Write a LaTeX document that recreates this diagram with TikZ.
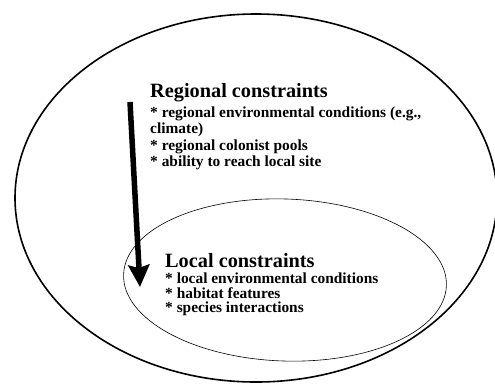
\documentclass[tikz,border=0pt]{standalone}
\usepackage{fontspec}
\setmainfont{Liberation Serif}
\usetikzlibrary{arrows.meta, shapes.geometric, positioning}

\begin{document}
\begin{tikzpicture}[x=1pt, y=-1pt,
    titre/.style={font=\fontsize{20.3}{22}\selectfont\bfseries, inner sep=0pt},
    liste/.style={font=\fontsize{15.4}{16.4}\selectfont\bfseries, inner sep=0pt, align=left},
    fleche/.style={line width=5.5pt, -{Stealth[length=22pt, width=21pt, inset=3pt]}}]
    \useasboundingbox (0,0) rectangle (495,384);
    % Ellipse regionale
    \node[draw, ellipse, line width=1.6pt, minimum width=482pt, minimum height=368pt] (region) at (256,198) {};
    % Ellipse locale
    \node[draw, ellipse, line width=0.6pt, minimum width=323pt, minimum height=162pt, rotate=-2] (local) at (285,280) {};
    % Contraintes regionales
    \node[titre, anchor=base west] (regtitre) at (150,97) {Regional constraints};
    \node[liste, below=5pt of regtitre.south west, anchor=north west] (regliste)
        {* regional environmental conditions (e.g.,\\ climate)\\ * regional colonist pools\\ * ability to reach local site};
    % Contraintes locales
    \node[titre, anchor=base west] (loctitre) at (165,267) {Local constraints};
    \node[liste, below=5pt of loctitre.south west, anchor=north west, font=\fontsize{15.4}{14.8}\selectfont\bfseries] (locliste)
        {* local environmental conditions\\ * habitat features\\ * species interactions};
    % Fleche
    \coordinate (haut) at (130,102);
    \coordinate (bas) at (140,287);
    \draw[fleche] (haut) -- (bas);
\end{tikzpicture}
\end{document}
